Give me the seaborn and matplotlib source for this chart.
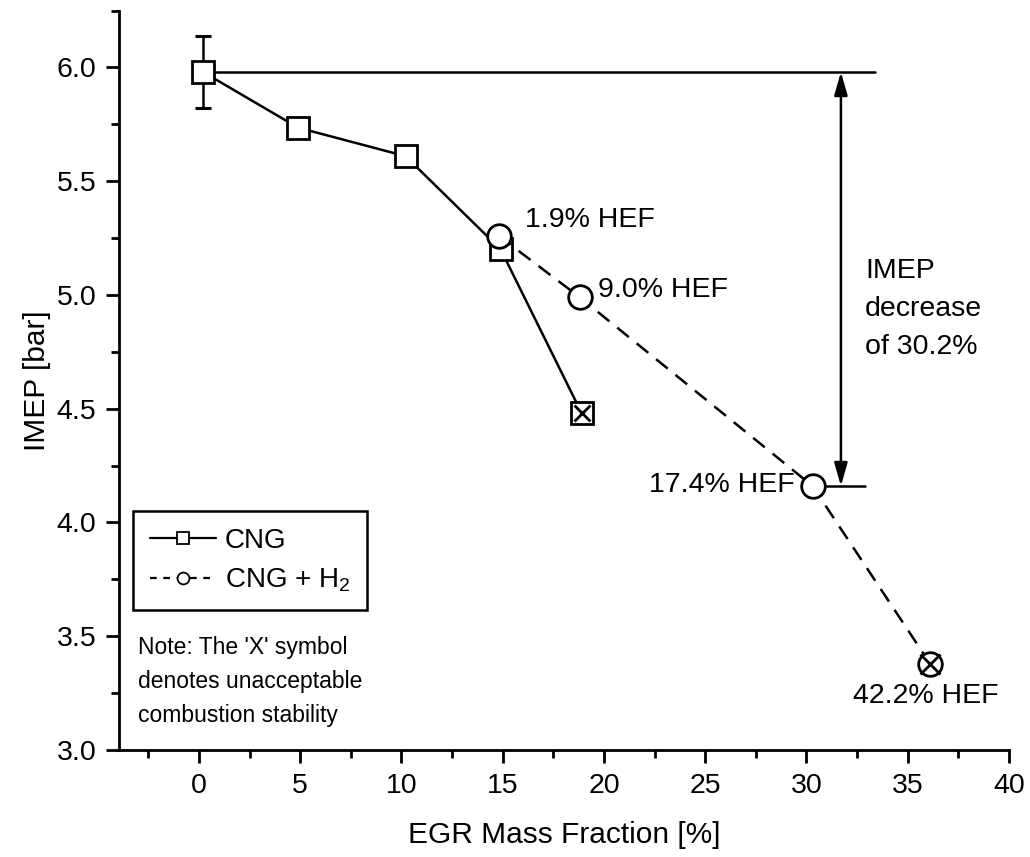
import numpy as np
import pandas as pd
import matplotlib
matplotlib.use("Agg")
import matplotlib.pyplot as plt
from matplotlib.lines import Line2D
from matplotlib.ticker import MultipleLocator, FormatStrFormatter
import seaborn as sns

# ---- data ----
cng_egr = [0.2, 4.9, 10.2, 14.9, 18.9]
cng_imep = [5.98, 5.735, 5.61, 5.20, 4.48]
cng_err = [0.16, 0, 0, 0, 0]
cng_unstable = [False, False, False, False, True]

h2_egr = [14.8, 18.8, 30.3, 36.1]
h2_imep = [5.26, 4.99, 4.16, 3.38]
h2_labels = ["1.9% HEF", "9.0% HEF", "17.4% HEF", "42.2% HEF"]
h2_unstable = [False, False, False, True]

ref_top = 5.98
ref_bottom = 4.16
decrease_text = "IMEP\ndecrease\nof 30.2%"

sns.set_style("ticks")
plt.rcParams["font.family"] = ["Liberation Sans", "DejaVu Sans"]
plt.rcParams["mathtext.fontset"] = "custom"
plt.rcParams["mathtext.rm"] = "Liberation Sans"
plt.rcParams["mathtext.it"] = "Liberation Sans"
plt.rcParams["text.color"] = "black"
plt.rcParams["axes.labelcolor"] = "black"
plt.rcParams["xtick.color"] = "black"
plt.rcParams["ytick.color"] = "black"

fig = plt.figure(figsize=(10.30, 8.57), dpi=100)
ax = fig.add_axes([0.1155, 0.1249, 0.8641, 0.8628])

df_c = pd.DataFrame({"x": cng_egr, "y": cng_imep})
df_h = pd.DataFrame({"x": h2_egr, "y": h2_imep})

sns.lineplot(data=df_c, x="x", y="y", ax=ax, color="black", lw=1.8,
             marker="s", markersize=16, markerfacecolor="white",
             markeredgecolor="black", markeredgewidth=2, zorder=3)
sns.lineplot(data=df_h, x="x", y="y", ax=ax, color="black", lw=1.8,
             linestyle=(0, (6, 4)), marker="o", markersize=17,
             markerfacecolor="white", markeredgecolor="black",
             markeredgewidth=2, zorder=3)

# error bar on first point
ax.errorbar(cng_egr[0], cng_imep[0], yerr=cng_err[0], fmt="none",
            ecolor="black", elinewidth=1.8, capsize=6, capthick=2.2, zorder=2)

# X marks for unacceptable stability
for x, y, u in zip(cng_egr, cng_imep, cng_unstable):
    if u:
        ax.plot([x], [y], marker="x", markersize=11, mew=2, color="black", zorder=4)
for x, y, u in zip(h2_egr, h2_imep, h2_unstable):
    if u:
        ax.plot([x], [y], marker="x", markersize=14, mew=2, color="black", zorder=4)

# reference lines and arrow
ax.plot([cng_egr[0], 33.4], [ref_top, ref_top], color="black", lw=1.8, zorder=2)
ax.plot([h2_egr[2], 32.9], [ref_bottom, ref_bottom], color="black", lw=1.8, zorder=2)
ax.annotate("", xy=(31.7, ref_bottom), xytext=(31.7, ref_top),
            arrowprops=dict(arrowstyle="<|-|>,head_length=1.4,head_width=0.4",
                            color="black", lw=1.8, shrinkA=0, shrinkB=0))

fs = 20.5
ax.text(16.1, 5.33, h2_labels[0], fontsize=fs, va="center", ha="left")
ax.text(19.7, 5.02, h2_labels[1], fontsize=fs, va="center", ha="left")
ax.text(29.4, 4.165, h2_labels[2], fontsize=fs, va="center", ha="right")
ax.text(35.9, 3.235, h2_labels[3], fontsize=fs, va="center", ha="center")
ax.text(32.9, 4.94, decrease_text, fontsize=fs, va="center", ha="left",
        linespacing=1.6)

# legend
handles = [
    Line2D([], [], color="black", lw=1.6, marker="s", markersize=8.5,
           markerfacecolor="white", markeredgecolor="black", markeredgewidth=1.3),
    Line2D([], [], color="black", lw=1.6, linestyle=(0, (3, 3)), marker="o",
           markersize=8.5, markerfacecolor="white", markeredgecolor="black",
           markeredgewidth=1.3),
]
leg = ax.legend(handles, ["CNG", "CNG + H$_2$"], loc="upper left",
                bbox_to_anchor=(0.0157, 0.323), fontsize=20, frameon=True,
                fancybox=False, edgecolor="black", framealpha=1,
                handlelength=2.4, handletextpad=0.3, borderpad=0.6,
                labelspacing=0.45, borderaxespad=0)
leg.get_frame().set_linewidth(1.8)
for t in leg.get_texts():
    t.set_color("black")

ax.text(0.021, 0.093, "Note: The 'X' symbol\ndenotes unacceptable\ncombustion stability",
        transform=ax.transAxes, fontsize=16.5, va="center", ha="left",
        linespacing=1.62)

# axes
ax.set_xlim(-3.95, 40)
ax.set_ylim(3.0, 6.25)
ax.xaxis.set_major_locator(MultipleLocator(5))
ax.xaxis.set_minor_locator(MultipleLocator(2.5))
ax.yaxis.set_major_locator(MultipleLocator(0.5))
ax.yaxis.set_minor_locator(MultipleLocator(0.25))
ax.yaxis.set_major_formatter(FormatStrFormatter("%.1f"))
ax.set_xticks(np.arange(0, 41, 5))
ax.tick_params(axis="both", which="major", length=9.4, width=2, labelsize=20.5,
               direction="out", color="black", pad=7)
ax.tick_params(axis="both", which="minor", length=5.8, width=2, direction="out",
               color="black")
for s in ["left", "bottom"]:
    ax.spines[s].set_linewidth(2)
    ax.spines[s].set_color("black")
sns.despine(ax=ax)
ax.set_xlabel("EGR Mass Fraction [%]", fontsize=21.5, labelpad=16)
ax.set_ylabel("IMEP [bar]", fontsize=21.5, labelpad=4)

fig.savefig("out.png", dpi=100)
